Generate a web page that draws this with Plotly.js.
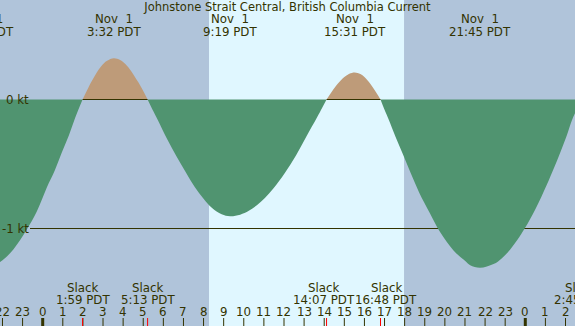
<!DOCTYPE html>
<html><head><meta charset="utf-8">
<script src="https://cdn.plot.ly/plotly-3.0.1.min.js"></script>
<style>html,body{margin:0;padding:0;overflow:hidden;background:#b0c4da}</style>
</head><body><div id="chart" style="width:575px;height:326px"></div>
<script>
// ---- data ----
const chartTitle = "Johnstone Strait Central, British Columbia Current";
// hours relative to Nov 1 00:00 PDT, current speed in knots (+ flood, - ebb)
const hours = [-2.967, -2.12, -1.45, -0.80, -0.30, 0.21, 0.60, 0.95, 1.30, 1.62, 1.983,
  2.20, 2.45, 2.90, 3.20, 3.533, 3.85, 4.20, 4.75, 5.00, 5.217,
  5.45, 5.73, 6.20, 6.65, 7.10, 7.57, 8.00, 8.41, 8.90, 9.317, 9.82, 10.25, 10.65, 11.05, 11.47, 12.05, 12.61, 13.10, 13.64, 13.90, 14.117,
  14.35, 14.60, 15.00, 15.25, 15.517, 15.80, 16.00, 16.30, 16.60, 16.80,
  17.00, 17.19, 17.55, 17.93, 18.30, 18.72, 19.25, 19.77, 20.43, 21.00, 21.26, 21.75, 22.42, 22.85, 23.25, 23.60, 23.99, 24.50, 25.07, 25.40, 25.74, 26.05, 26.32, 26.55, 26.75];
const knots = [-1.31, -1.26, -1.16, -1.01, -0.87, -0.68, -0.55, -0.41, -0.28, -0.14, 0,
  0.07, 0.146, 0.256, 0.30, 0.32, 0.306, 0.26, 0.135, 0.065, 0,
  -0.075, -0.16, -0.31, -0.44, -0.56, -0.68, -0.77, -0.84, -0.89, -0.905, -0.893, -0.863, -0.82, -0.763, -0.69, -0.567, -0.43, -0.29, -0.14, -0.064, 0,
  0.055, 0.108, 0.174, 0.20, 0.21, 0.197, 0.174, 0.12, 0.05, 0,
  -0.08, -0.15, -0.29, -0.43, -0.57, -0.72, -0.88, -1.03, -1.17, -1.25, -1.285, -1.305, -1.276, -1.228, -1.163, -1.09, -0.995, -0.85, -0.66, -0.54, -0.41, -0.285, -0.16, -0.08, 0];
const extremeHours = [-2.967, 3.533, 9.317, 15.517, 21.75];
const extremeDates = ["Oct 31", "Nov  1", "Nov  1", "Nov  1", "Nov  1"];
const extremeTimes = ["21:02 PDT", "3:32 PDT", "9:19 PDT", "15:31 PDT", "21:45 PDT"];
const slackHours = [1.983, 5.217, 14.117, 16.8, 26.75];
const slackTimes = ["1:59 PDT", "5:13 PDT", "14:07 PDT", "16:48 PDT", "2:45 PDT"];
const tickHours = [-2, -1, 0, 1, 2, 3, 4, 5, 6, 7, 8, 9, 10, 11, 12, 13, 14, 15, 16, 17, 18, 19, 20, 21, 22, 23, 24, 25, 26];
const tickLabels = ["22", "23", "0", "1", "2", "3", "4", "5", "6", "7", "8", "9", "10", "11", "12", "13", "14", "15", "16", "17", "18", "19", "20", "21", "22", "23", "0", "1", "2"];
const midnightHours = [0, 24];
const sunrise = 8.27, sunset = 17.97;
const levels = [0, -1];
const levelLabels = ["0 kt", "-1 kt"];

// ---- styles ----
const W = 575, H = 326;
const X0 = -2.1235, X1 = 26.472;
const NIGHT = "#b0c4da", DAY = "#e0f7ff", EBB = "#509470", FLOOD = "#be9b79", INK = "#333300";
const FONT = {family: "DejaVu Sans", size: 11.8, color: INK};
const TFONT = {family: "DejaVu Sans", size: 11.5, color: INK};
const MIN_LABEL_GAP = 62.5; // px between centres of neighbouring slack labels
const py = p => 1 - p / H;
const toPx = h => (h - X0) / (X1 - X0) * W;
const nb = s => s.replace(/ /g, "\u00a0");

const traces = [
  {x: hours, y: knots.map(v => v <= 0 ? v : null), mode: "lines", line: {width: 0, shape: "spline", smoothing: 1},
   fill: "tozeroy", fillcolor: EBB, hoverinfo: "skip", connectgaps: false},
  {x: hours, y: knots.map(v => v >= 0 ? v : null), mode: "lines", line: {width: 0, shape: "spline", smoothing: 1},
   fill: "tozeroy", fillcolor: FLOOD, hoverinfo: "skip", connectgaps: false},
  {x: hours, y: knots.map(v => v >= 0 ? 0 : null), mode: "lines", line: {width: 1, color: INK},
   hoverinfo: "skip", connectgaps: false}
];

const shapes = [
  {type: "rect", xref: "x", yref: "paper", x0: sunrise, x1: sunset, y0: 0, y1: 1, fillcolor: DAY, line: {width: 0}, layer: "below"}
];
levels.forEach(l => {
  if (l !== 0) shapes.push({type: "line", xref: "paper", yref: "y", x0: 30 / W, x1: 1, y0: l, y1: l, line: {color: INK, width: 1}, layer: "below"});
});
tickHours.forEach(h => {
  const mid = midnightHours.includes(h);
  shapes.push({type: "line", xref: "x", yref: "paper", x0: h, x1: h, y0: 0, y1: 8 / H, line: {color: INK, width: mid ? 3 : 1}});
});
slackHours.forEach(h => {
  shapes.push({type: "line", xref: "x", yref: "paper", x0: h, x1: h, y0: 0, y1: 8 / H, line: {color: "#ff0000", width: 1}});
});

// push crowded slack labels apart
const slackPx = slackHours.map(toPx);
for (let i = 1; i < slackPx.length; i++) {
  const d = MIN_LABEL_GAP - (slackPx[i] - slackPx[i - 1]);
  if (d > 0) { slackPx[i - 1] -= d * 0.35; slackPx[i] += d * 0.65; }
}

const annotations = [];
const ann = (xp, y, yref, text, xanchor, font) => annotations.push({x: xp / W, xref: "paper", y, yref, text: nb(text), showarrow: false,
  xanchor: xanchor || "center", yanchor: "middle", font: font || FONT, borderpad: 0, borderwidth: 0});
extremeHours.forEach((h, i) => { ann(toPx(h), py(19.5), "paper", extremeDates[i]); ann(toPx(h), py(31.8), "paper", extremeTimes[i]); });
slackPx.forEach((p, i) => { ann(p, py(287.5), "paper", "Slack"); ann(p, py(299.6), "paper", slackTimes[i]); });
tickHours.forEach((h, i) => ann(toPx(h), py(311.6), "paper", tickLabels[i]));
levels.forEach((l, i) => ann(28.5, l, "y", levelLabels[i], "right"));

const layout = {
  width: W, height: H, autosize: false,
  margin: {l: 0, r: 0, t: 0, b: 0, pad: 0},
  paper_bgcolor: NIGHT, plot_bgcolor: "rgba(0,0,0,0)",
  showlegend: false,
  title: {text: chartTitle, font: TFONT, x: 0.5, xanchor: "center", y: py(6.8), yanchor: "middle", yref: "container", pad: {t: 0, b: 0, l: 0, r: 0}},
  xaxis: {range: [X0, X1], visible: false, fixedrange: true},
  yaxis: {range: [-1.7558, 0.7713], visible: false, fixedrange: true},
  shapes, annotations
};
Plotly.newPlot("chart", traces, layout, {staticPlot: true, displayModeBar: false});
</script></body></html>
